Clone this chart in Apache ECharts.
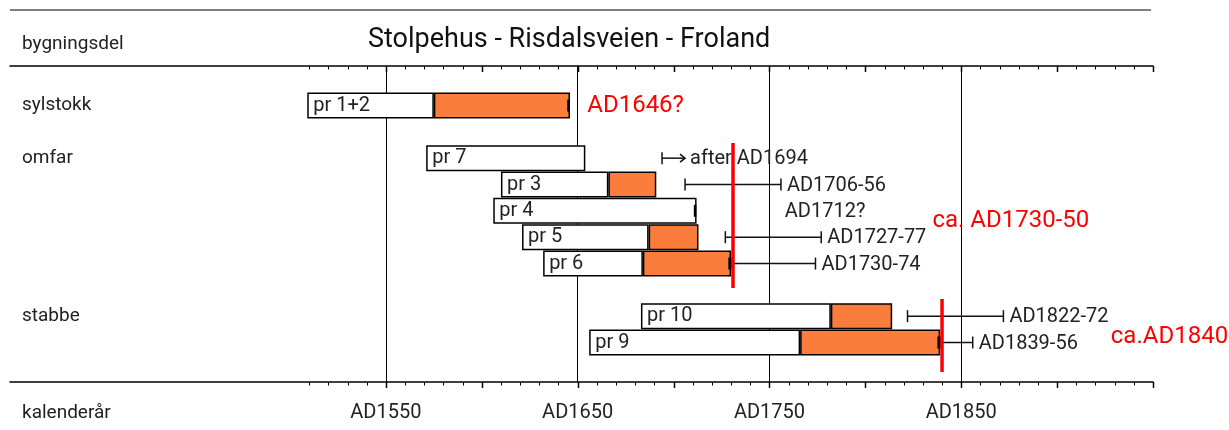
<!DOCTYPE html>
<html>
<head>
<meta charset="utf-8">
<script src="https://cdn.jsdelivr.net/npm/echarts@6/dist/echarts.min.js"></script>
<style>
  html, body { margin: 0; background: #fff; }
  #chart { width: 1229px; height: 430px; }
</style>
</head>
<body>
<div id="chart"></div>
<script>
// rows of the chart, top to bottom (empty rows are spacers)
const rowGroups = ['', 'sylstokk', '', 'omfar', '', '', '', '', '', 'stabbe', '', ''];

// samples
const samples   = ['pr 1+2', 'pr 7', 'pr 3', 'pr 4', 'pr 5', 'pr 6', 'pr 10', 'pr 9'];
const sampleRow = [1, 3, 4, 5, 6, 7, 9, 10];
const firstRing = [1509, 1571, 1610, 1606, 1621, 1632, 1683, 1656];
const sapStart  = [1575, null, 1666, null, 1687, 1684, 1782, 1766];
const lastRing  = [1646, 1654, 1691, 1712, 1713, 1730, 1814, 1839];
const waneyEdge = [true, false, false, true, false, true, false, true];

// felling date ranges (null end = open, "after")
const fellFrom = [null, 1694, 1706, null, 1727, 1730, 1822, 1839];
const fellTo   = [null, null, 1756, null, 1777, 1774, 1872, 1856];
const fellNote = ['', 'after AD1694', 'AD1706-56', 'AD1712?', 'AD1727-77', 'AD1730-74', 'AD1822-72', 'AD1839-56'];
const noteYear = [null, null, null, 1758, null, null, null, null];

// red estimates
const estYear   = [1731, 1840];
const estTop    = [2.92, 8.85];
const estBottom = [8.43, 11.62];
const redNotes    = ['AD1646?', 'ca. AD1730-50', 'ca.AD1840'];
const redNoteYear = [1655, 1835, 1928];
const redNoteRow  = [1.52, 5.89, 10.29];

// axis
const labelYears = [1550, 1650, 1750, 1850];
const gridYears  = [1550, 1650, 1750, 1850];
const majorTicks = [1550, 1600, 1650, 1700, 1750, 1800, 1850, 1900, 1950];
const minorTicks = [];
for (let y = 1510; y <= 1950; y += 10) minorTicks.push(y);

const FONT = 'Roboto';
const INK = '#222';

const n = rowGroups.length;
const baseData = new Array(n).fill(null);
const heartData = new Array(n).fill(null);
const sapData = new Array(n).fill(null);
const rowLabel = new Array(n).fill('');
samples.forEach((s, i) => {
  const r = sampleRow[i];
  baseData[r] = firstRing[i];
  heartData[r] = (sapStart[i] == null ? lastRing[i] : sapStart[i]) - firstRing[i];
  sapData[r] = sapStart[i] == null ? null : lastRing[i] - sapStart[i];
  rowLabel[r] = s;
});

const chart = echarts.init(document.getElementById('chart'));

function xAx(extra) {
  return Object.assign({
    type: 'value', min: 1354, max: 1950, gridIndex: 0,
    splitLine: { show: false },
    axisLabel: { show: false },
    axisLine: { show: false, onZero: false },
    axisTick: { show: false }
  }, extra);
}

// short ticks every 10 years, longer every 50, on both the top and bottom lines
function renderTick(params, api) {
  const v = api.value(0);
  const top = api.coord([v, 0]);
  const bot = api.coord([v, 12]);
  const major = majorTicks.indexOf(v) >= 0;
  const len = major ? 6 : 3.5;
  const st = { stroke: '#000', lineWidth: major ? 1.5 : 1 };
  const x = Math.round(top[0]) + 0.5;
  return {
    type: 'group',
    children: [
      { type: 'line', shape: { x1: x, y1: top[1], x2: x, y2: top[1] + len }, style: st },
      { type: 'line', shape: { x1: x, y1: bot[1], x2: x, y2: bot[1] + len }, style: st }
    ]
  };
}

function renderRange(params, api) {
  const i = api.value(0);
  const yv = sampleRow[i] + 0.5;
  const line = { stroke: '#111', lineWidth: 1.5 };
  const kids = [];
  const end = api.coord([lastRing[i], yv]);
  const yc = end[1];
  if (waneyEdge[i]) {
    kids.push({ type: 'line', shape: { x1: end[0] - 1.5, y1: yc - 6, x2: end[0] - 1.5, y2: yc + 6 },
      style: { stroke: '#000', lineWidth: 2.5 } });
  }
  let textX;
  if (fellFrom[i] != null) {
    const x0 = api.coord([fellFrom[i], yv])[0];
    kids.push({ type: 'line', shape: { x1: x0, y1: yc - 6, x2: x0, y2: yc + 6 }, style: line });
    if (fellTo[i] != null) {
      const x1 = api.coord([fellTo[i], yv])[0];
      kids.push({ type: 'line', shape: { x1: x0, y1: yc, x2: x1, y2: yc }, style: line });
      kids.push({ type: 'line', shape: { x1: x1, y1: yc - 6, x2: x1, y2: yc + 6 }, style: line });
      textX = x1 + 6;
    } else {
      const x1 = x0 + 23;
      kids.push({ type: 'line', shape: { x1: x0, y1: yc, x2: x1, y2: yc }, style: line });
      kids.push({ type: 'polyline', shape: { points: [[x1 - 5, yc - 4], [x1, yc], [x1 - 5, yc + 4]] },
        style: { stroke: '#111', lineWidth: 1.5, fill: null } });
      textX = x1 + 5;
    }
  } else if (noteYear[i] != null) {
    textX = api.coord([noteYear[i], yv])[0];
  }
  if (fellNote[i]) {
    kids.push({ type: 'text', x: textX, y: yc + 1,
      style: { text: fellNote[i], fill: INK, fontFamily: FONT, fontSize: 20, align: 'left', verticalAlign: 'middle' } });
  }
  return { type: 'group', children: kids };
}

function renderRedNote(params, api) {
  const i = api.value(0);
  const p = api.coord([redNoteYear[i], redNoteRow[i]]);
  return { type: 'text', x: p[0], y: p[1],
    style: { text: redNotes[i], fill: '#ff0000', fontFamily: FONT, fontSize: 24, align: 'left', verticalAlign: 'middle' } };
}

const option = {
  animation: false,
  title: {
    text: 'Stolpehus - Risdalsveien - Froland',
    left: 368, top: 27, padding: 0,
    textStyle: { fontFamily: FONT, fontSize: 27, fontWeight: 'normal', color: '#111' }
  },
  grid: { left: 10, right: 76, top: 66, bottom: 48, containLabel: false, outerBoundsMode: 'none' },
  graphic: [
    { type: 'line', shape: { x1: 10, y1: 10, x2: 1151, y2: 10 }, style: { stroke: '#808080', lineWidth: 2 } },
    { type: 'text', x: 22, y: 44, style: { text: 'bygningsdel', fill: INK, fontFamily: FONT, fontSize: 19, verticalAlign: 'middle' } },
    { type: 'text', x: 22, y: 413, style: { text: 'kalenderår', fill: INK, fontFamily: FONT, fontSize: 19, verticalAlign: 'middle' } }
  ],
  xAxis: [
    xAx({
      position: 'bottom',
      axisLine: { show: true, onZero: false, lineStyle: { color: '#000', width: 1.5 } },
      axisLabel: { show: true, customValues: labelYears, formatter: v => 'AD' + v, margin: 21,
        fontFamily: FONT, fontSize: 20, color: INK }
    }),
    xAx({
      position: 'top',
      axisLine: { show: true, onZero: false, lineStyle: { color: '#000', width: 1.5 } }
    }),
    xAx({
      position: 'bottom',
      axisTick: { show: false, customValues: gridYears },
      splitLine: { show: true, lineStyle: { color: '#000', width: 1 } }
    })
  ],
  yAxis: [
    {
      type: 'category', inverse: true, data: rowGroups.map((g, i) => 'r' + i),
      axisLine: { show: false }, axisTick: { show: false }, splitLine: { show: false },
      axisLabel: { inside: true, margin: 12, formatter: (v, idx) => rowGroups[idx],
        fontFamily: FONT, fontSize: 19, color: INK }
    },
    { type: 'value', min: 0, max: 12, inverse: true, show: false }
  ],
  series: [
    {
      type: 'custom', xAxisIndex: 0, yAxisIndex: 1, renderItem: renderTick,
      data: minorTicks.map(v => [v]), silent: true, z: 1
    },
    { type: 'bar', stack: 'ring', barWidth: 26, data: baseData, itemStyle: { color: 'rgba(0,0,0,0)' }, silent: true },
    {
      type: 'bar', stack: 'ring', barWidth: 26, data: heartData,
      itemStyle: { color: '#ffffff', borderColor: '#000', borderWidth: 1.5 },
      label: { show: true, position: 'insideLeft', distance: 6, formatter: p => rowLabel[p.dataIndex],
        fontFamily: FONT, fontSize: 20, color: INK }
    },
    {
      type: 'bar', stack: 'ring', barWidth: 26, data: sapData,
      itemStyle: { color: '#fa7d3c', borderColor: '#000', borderWidth: 1.5 }
    },
    {
      type: 'custom', xAxisIndex: 0, yAxisIndex: 1, renderItem: renderRange,
      data: samples.map((s, i) => [i]), z: 5
    },
    ...estYear.map((y, k) => ({
      type: 'line', xAxisIndex: 0, yAxisIndex: 1, symbol: 'none', z: 6,
      data: [[y, estTop[k]], [y, estBottom[k]]],
      lineStyle: { color: '#ff0000', width: 3.5 }
    })),
    {
      type: 'custom', xAxisIndex: 0, yAxisIndex: 1, renderItem: renderRedNote,
      data: redNotes.map((t, i) => [i]), z: 7
    }
  ]
};

chart.setOption(option);
</script>
</body>
</html>
